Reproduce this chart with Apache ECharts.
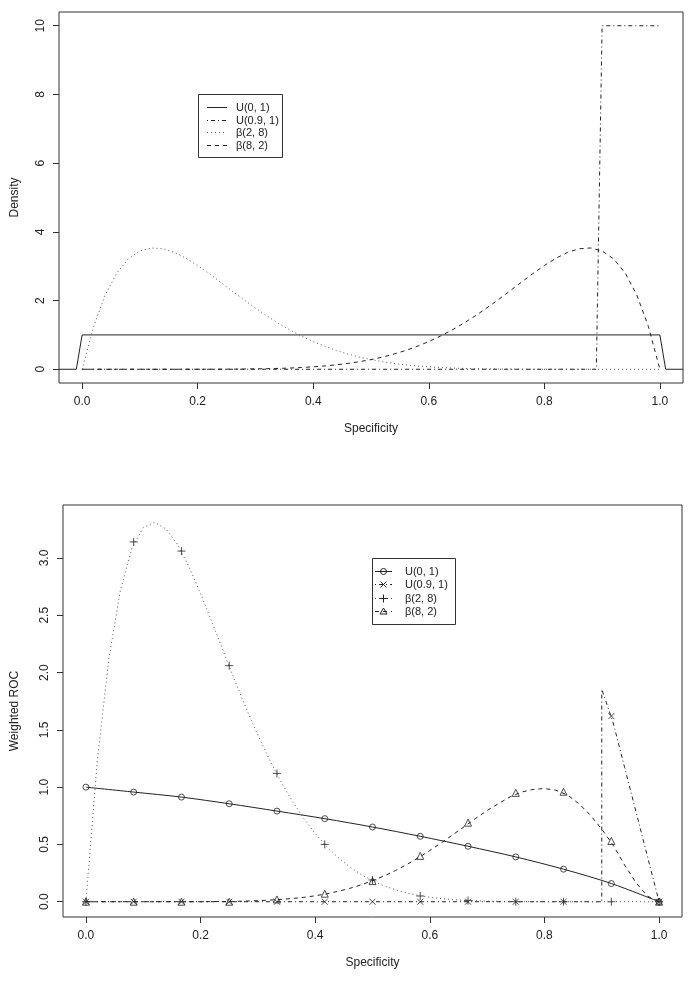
<!DOCTYPE html>
<html>
<head>
<meta charset="utf-8">
<script src="https://cdn.jsdelivr.net/npm/echarts@6/dist/echarts.min.js"></script>
<style>
  html, body { margin: 0; padding: 0; background: #fff; }
  #main { width: 696px; height: 983px; }
</style>
</head>
<body>
<div id="main"></div>
<script>
// 数据：上图密度，下图加权 ROC
var gridX = [0, 0.02, 0.04, 0.06, 0.08, 0.1, 0.12, 0.14, 0.16, 0.18, 0.2, 0.22, 0.24, 0.26, 0.28, 0.3, 0.32, 0.34, 0.36, 0.38, 0.4,
  0.42, 0.44, 0.46, 0.48, 0.5, 0.52, 0.54, 0.56, 0.58, 0.6, 0.62, 0.64, 0.66, 0.68, 0.7, 0.72, 0.74, 0.76, 0.78, 0.8,
  0.82, 0.84, 0.86, 0.88, 0.9, 0.92, 0.94, 0.96, 0.98, 1];

// 上图
var unifX = [-0.04, -0.01, 0, 1, 1.01, 1.04];
var unifDens = [0, 0, 1, 1, 0, 0];
var u91X = [0, 0.89, 0.9, 1];
var u91Dens = [0, 0, 10, 10];
var beta28Dens = [0, 1.250, 2.164, 2.802, 3.213, 3.444, 3.531, 3.507, 3.400, 3.231, 3.020, 2.783, 2.531, 2.275, 2.022, 1.780,
  1.550, 1.335, 1.140, 0.964, 0.806, 0.668, 0.547, 0.444, 0.355, 0.281, 0.220, 0.169, 0.129, 0.096, 0.071, 0.051, 0.036,
  0.025, 0.017, 0.011, 0.007, 0.004, 0.002, 0.001, 0.001, 0, 0, 0, 0, 0, 0, 0, 0, 0, 0];
var beta82Dens = [0, 0, 0, 0, 0, 0, 0, 0, 0, 0, 0.001, 0.001, 0.002, 0.004, 0.007, 0.011, 0.017, 0.025, 0.036, 0.051, 0.071,
  0.096, 0.129, 0.169, 0.220, 0.281, 0.355, 0.444, 0.547, 0.668, 0.806, 0.964, 1.140, 1.335, 1.550, 1.780, 2.022, 2.275,
  2.531, 2.783, 3.020, 3.231, 3.400, 3.507, 3.531, 3.444, 3.213, 2.802, 2.164, 1.250, 0];

// 下图
var markX = [0, 0.0833, 0.1667, 0.25, 0.3333, 0.4167, 0.5, 0.5833, 0.6667, 0.75, 0.8333, 0.9167, 1];
var rocU01 = [1.0, 0.957, 0.913, 0.855, 0.791, 0.725, 0.652, 0.571, 0.484, 0.391, 0.284, 0.159, 0];
var w91X = [0, 0.9, 0.9, 0.92, 0.94, 0.96, 0.98, 1];
var w91 = [0, 0, 1.855, 1.56, 1.17, 0.78, 0.39, 0];
var w28 = [0, 1.238, 2.119, 2.715, 3.081, 3.265, 3.312, 3.251, 3.118, 2.921, 2.688, 2.438, 2.182, 1.927, 1.682, 1.454,
  1.242, 1.049, 0.878, 0.727, 0.595, 0.482, 0.386, 0.305, 0.238, 0.183, 0.139, 0.104, 0.077, 0.055, 0.039, 0.027, 0.018,
  0.012, 0.008, 0.005, 0.003, 0.002, 0.001, 0, 0, 0, 0, 0, 0, 0, 0, 0, 0, 0, 0];
var w82 = [0, 0, 0, 0, 0, 0, 0, 0, 0, 0, 0, 0.001, 0.002, 0.003, 0.006, 0.009, 0.014, 0.020, 0.028, 0.038, 0.052,
  0.069, 0.091, 0.116, 0.147, 0.183, 0.225, 0.272, 0.325, 0.383, 0.447, 0.514, 0.584, 0.655, 0.727, 0.796, 0.857, 0.915,
  0.957, 0.980, 0.988, 0.973, 0.932, 0.856, 0.756, 0.634, 0.492, 0.319, 0.164, 0.048, 0];
var mU91 = [0, 0, 0, 0, 0, 0, 0, 0, 0, 0, 0, 1.62, 0];
var m28 = [0, 3.14, 3.06, 2.06, 1.12, 0.50, 0.19, 0.05, 0.01, 0, 0, 0, 0];
var m82 = [0, 0, 0, 0, 0.02, 0.07, 0.18, 0.40, 0.69, 0.95, 0.96, 0.53, 0];

var names = ['U(0, 1)', 'U(0.9, 1)', '\u03b2(2, 8)', '\u03b2(8, 2)'];

var xTicks = [0, 0.2, 0.4, 0.6, 0.8, 1];
var yTicksTop = [0, 2, 4, 6, 8, 10];
var yTicksBot = [0, 0.5, 1, 1.5, 2, 2.5, 3];

function pairs(xs, ys) {
  return xs.map(function(x, i) { return [x, ys[i]]; });
}

var FONT = 'Liberation Sans, Arial, sans-serif';
var INK = '#222';
var DOTC = '#555';
var DASH = [4, 4], DOT = [1, 3], DOTDASH = [1, 3, 4, 3];
var PLUS = 'path://M0,5L10,5M5,0L5,10';
var CROSS = 'path://M0,0L10,10M10,0L0,10';
var styles = [
  { dash: null, color: INK, sym: 'circle' },
  { dash: DOTDASH, color: INK, sym: 'cross' },
  { dash: DOT, color: DOTC, sym: 'plus' },
  { dash: DASH, color: INK, sym: 'triangle' }
];

function xAxisOf(gi) {
  return {
    type: 'value', gridIndex: gi, min: -0.04, max: 1.04,
    name: 'Specificity', nameLocation: 'middle', nameGap: 40,
    nameTextStyle: { fontFamily: FONT, fontSize: 12, color: INK },
    axisLine: { show: false, onZero: false },
    axisTick: { show: true, customValues: xTicks, length: 6, lineStyle: { color: '#333' } },
    axisLabel: {
      customValues: xTicks, margin: 13, fontFamily: FONT, fontSize: 12, color: INK,
      formatter: function(v) { return v.toFixed(1); }
    },
    splitLine: { show: false }
  };
}

function yAxisOf(gi, min, max, ticks, title, gap, fmt) {
  return {
    type: 'value', gridIndex: gi, min: min, max: max,
    name: title, nameLocation: 'middle', nameGap: gap,
    nameTextStyle: { fontFamily: FONT, fontSize: 12, color: INK },
    axisLine: { show: false, onZero: false },
    axisTick: { show: true, customValues: ticks, length: 6, lineStyle: { color: '#333' } },
    axisLabel: {
      customValues: ticks, rotate: 90, margin: 12, fontFamily: FONT, fontSize: 12, color: INK,
      formatter: fmt
    },
    splitLine: { show: false }
  };
}

function curve(name, gi, data, st, smooth) {
  return {
    name: name, type: 'line', xAxisIndex: gi, yAxisIndex: gi, data: data,
    showSymbol: false, symbol: 'none', smooth: smooth || false,
    animation: false, silent: true,
    lineStyle: { color: st.color, width: 1, type: st.dash || 'solid' }
  };
}

function marks(name, data, sym, size) {
  return {
    name: name, type: 'scatter', xAxisIndex: 1, yAxisIndex: 1, data: data,
    symbol: sym, symbolSize: size, animation: false, silent: true,
    itemStyle: { color: 'transparent', borderColor: INK, borderWidth: 1 }
  };
}

// 图例用 graphic 画（R 风格的方框图例）
function legendSymbol(kind, cx, cy) {
  var s = { stroke: INK, fill: null, lineWidth: 1 };
  if (kind === 'circle') return [{ type: 'circle', shape: { cx: cx, cy: cy, r: 3 }, style: s }];
  if (kind === 'triangle') return [{ type: 'polygon', shape: { points: [[cx, cy - 3.5], [cx - 3.5, cy + 2.5], [cx + 3.5, cy + 2.5]] }, style: s }];
  if (kind === 'plus') return [
    { type: 'line', shape: { x1: cx - 4, y1: cy, x2: cx + 4, y2: cy }, style: s },
    { type: 'line', shape: { x1: cx, y1: cy - 4, x2: cx, y2: cy + 4 }, style: s }
  ];
  return [
    { type: 'line', shape: { x1: cx - 3, y1: cy - 3, x2: cx + 3, y2: cy + 3 }, style: s },
    { type: 'line', shape: { x1: cx + 3, y1: cy - 3, x2: cx - 3, y2: cy + 3 }, style: s }
  ];
}

function legendBox(box, rowY, rowStep, lx1, lx2, tx, withSym) {
  var els = [{
    type: 'rect', shape: { x: box[0] + 0.5, y: box[1] + 0.5, width: box[2], height: box[3] },
    style: { fill: '#fff', stroke: '#333', lineWidth: 1 }
  }];
  names.forEach(function(n, i) {
    var y = Math.round(rowY + rowStep * i) + 0.5;
    var st = styles[i];
    els.push({
      type: 'line', shape: { x1: lx1, y1: y, x2: lx2, y2: y },
      style: { stroke: st.color, lineWidth: 1, lineDash: st.dash }
    });
    if (withSym) els = els.concat(legendSymbol(st.sym, (lx1 + lx2) / 2, y));
    els.push({
      type: 'text', x: tx, y: y,
      style: { text: n, font: '11px ' + FONT, fill: INK, verticalAlign: 'middle', textAlign: 'left' }
    });
  });
  return { type: 'group', z: 100, silent: true, children: els };
}

var myChart = echarts.init(document.getElementById('main'), null, { renderer: 'canvas' });

option = {
  backgroundColor: '#fff',
  animation: false,
  grid: [
    { left: 59, top: 12, width: 624, height: 371, show: true, borderColor: '#333', borderWidth: 1 },
    { left: 63, top: 505, width: 619, height: 412, show: true, borderColor: '#333', borderWidth: 1 }
  ],
  xAxis: [xAxisOf(0), xAxisOf(1)],
  yAxis: [
    yAxisOf(0, -0.4, 10.4, yTicksTop, 'Density', 38, function(v) { return String(v); }),
    yAxisOf(1, -0.1333, 3.4622, yTicksBot, 'Weighted ROC', 42, function(v) { return v.toFixed(1); })
  ],
  graphic: [
    legendBox([198, 94, 84, 63], 107, 12.5, 207, 227, 236, false),
    legendBox([372, 558, 83, 66], 571, 13.3, 375, 392, 405, true)
  ],
  series: [
    curve(names[0], 0, pairs(unifX, unifDens), styles[0]),
    curve(names[1], 0, pairs(u91X, u91Dens), styles[1]),
    curve(names[2], 0, pairs(gridX, beta28Dens), styles[2]),
    curve(names[3], 0, pairs(gridX, beta82Dens), styles[3]),

    curve(names[0] + ' w', 1, pairs(markX, rocU01), styles[0], 0.3),
    curve(names[1] + ' w', 1, pairs(w91X, w91), styles[1]),
    curve(names[2] + ' w', 1, pairs(gridX, w28), styles[2]),
    curve(names[3] + ' w', 1, pairs(gridX, w82), styles[3]),

    marks('mk1', pairs(markX, rocU01), 'circle', 6),
    marks('mk2', pairs(markX, mU91), CROSS, 6),
    marks('mk3', pairs(markX, m28), PLUS, 8),
    marks('mk4', pairs(markX, m82), 'triangle', 7)
  ]
};
myChart.setOption(option);
</script>
</body>
</html>
